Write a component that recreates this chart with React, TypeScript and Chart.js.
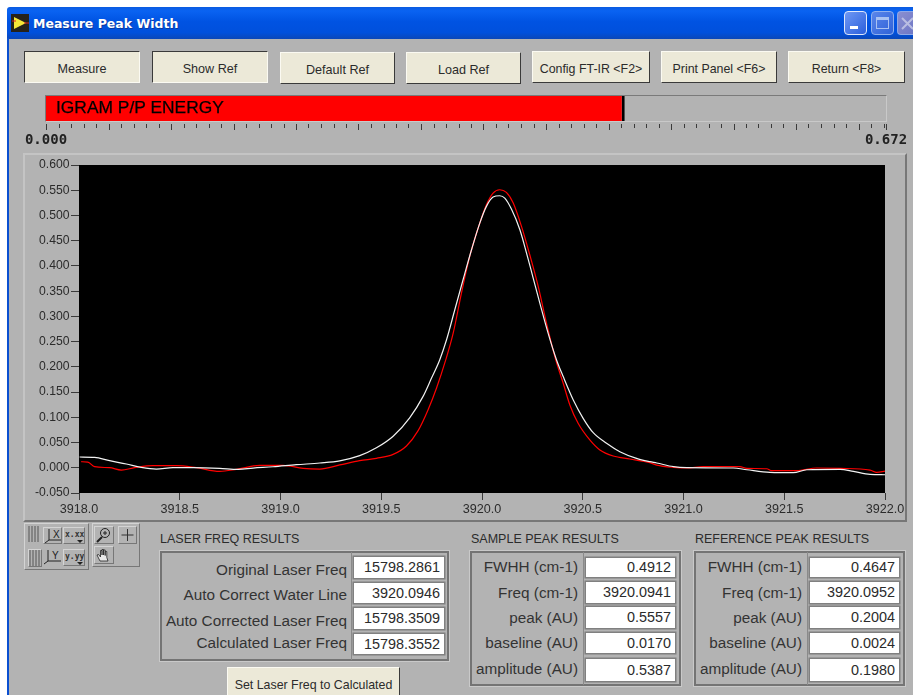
import React, { useEffect, useRef } from "react";
import { Chart, registerables } from "chart.js";

Chart.register(...registerables);

// ---- data ----
const whiteFreq = [
  3918.003, 3918.077, 3918.152, 3918.235, 3918.309, 3918.384, 3918.466, 3918.566, 3918.698, 3918.789, 3918.864,
  3918.963, 3919.079, 3919.195, 3919.294, 3919.393, 3919.476, 3919.559, 3919.641, 3919.707, 3919.749, 3919.79,
  3919.824, 3919.865, 3919.906, 3919.948, 3919.989, 3920.022, 3920.055, 3920.088, 3920.113, 3920.146, 3920.188,
  3920.221, 3920.254, 3920.287, 3920.328, 3920.37, 3920.403, 3920.453, 3920.502, 3920.552, 3920.618, 3920.684,
  3920.767, 3920.833, 3920.867, 3920.95, 3921.016, 3921.247, 3921.314, 3921.429, 3921.545, 3921.612, 3921.777,
  3921.843, 3921.926, 3922.0,
];
const whiteValues = [
  0.0213, 0.0206, 0.014, 0.0074, 0.0008, -0.0025, 0.0001, 0.0001, -0.0012, -0.0032, -0.0006, 0.002, 0.0061, 0.0094,
  0.0137, 0.024, 0.0395, 0.0625, 0.099, 0.141, 0.1773, 0.2137, 0.2536, 0.3131, 0.3726, 0.4321, 0.4849, 0.518, 0.5365,
  0.5391, 0.5345, 0.5127, 0.4717, 0.4254, 0.3759, 0.3263, 0.2668, 0.2137, 0.1807, 0.1344, 0.098, 0.0695, 0.0485,
  0.0319, 0.0187, 0.0121, 0.0095, 0.0021, 0.0001, -0.0005, -0.0039, -0.0091, -0.0098, -0.0039, -0.0032, -0.0072,
  -0.0131, -0.0138,
];
const redFreq = [
  3918.011, 3918.044, 3918.077, 3918.152, 3918.21, 3918.276, 3918.367, 3918.483, 3918.582, 3918.698, 3918.781,
  3918.897, 3919.012, 3919.112, 3919.195, 3919.294, 3919.393, 3919.476, 3919.559, 3919.625, 3919.683, 3919.732,
  3919.774, 3919.82, 3919.857, 3919.898, 3919.939, 3919.981, 3920.022, 3920.055, 3920.088, 3920.121, 3920.155,
  3920.196, 3920.237, 3920.279, 3920.32, 3920.366, 3920.403, 3920.436, 3920.477, 3920.535, 3920.585, 3920.651,
  3920.734, 3920.833, 3920.867, 3920.95, 3921.016, 3921.098, 3921.28, 3921.314, 3921.413, 3921.438, 3921.562,
  3921.661, 3921.777, 3921.926, 3921.959, 3922.0,
];
const redValues = [
  0.012, 0.0113, 0.0021, 0.0001, -0.0045, 0.0001, 0.0041, 0.0041, 0.0001, -0.0072, -0.0032, 0.0047, 0.0047, -0.0012,
  -0.0025, 0.0056, 0.0141, 0.0187, 0.0266, 0.0432, 0.0736, 0.1146, 0.1575, 0.2137, 0.2668, 0.3461, 0.4188, 0.475,
  0.5213, 0.5444, 0.551, 0.5457, 0.5246, 0.4783, 0.4221, 0.3593, 0.2866, 0.2137, 0.1674, 0.1245, 0.0881, 0.0551,
  0.0352, 0.0233, 0.0174, 0.0101, 0.0054, 0.0008, -0.0005, 0.0021, 0.0021, -0.0012, -0.0019, -0.0058, -0.0058,
  -0.0005, -0.0012, -0.0045, -0.0091, -0.0065,
];
const xAxisTicks = [3918.0, 3918.5, 3919.0, 3919.5, 3920.0, 3920.5, 3921.0, 3921.5, 3922.0];
const gaugeValue = [0.463];
const gaugeLabel = ["IGRAM P/P ENERGY"];
const gaugeEnds = [0, 0.672];

const windowTitle = "Measure Peak Width";
const buttonLabels = ["Measure", "Show Ref", "Default Ref", "Load Ref", "Config FT-IR <F2>", "Print Panel <F6>", "Return <F8>"];
const setButtonLabel = "Set Laser Freq to Calculated";

const laserTitle = "LASER FREQ RESULTS";
const laserLabels = ["Original Laser Freq", "Auto Correct Water Line", "Auto Corrected Laser Freq", "Calculated Laser Freq"];
const laserValues = ["15798.2861", "3920.0946", "15798.3509", "15798.3552"];

const peakLabels = ["FWHH (cm-1)", "Freq (cm-1)", "peak (AU)", "baseline (AU)", "amplitude (AU)"];
const sampleTitle = "SAMPLE PEAK RESULTS";
const sampleValues = ["0.4912", "3920.0941", "0.5557", "0.0170", "0.5387"];
const referenceTitle = "REFERENCE PEAK RESULTS";
const referenceValues = ["0.4647", "3920.0952", "0.2004", "0.0024", "0.1980"];

// ---- layout and styles ----
const FONT = '"Liberation Sans", Arial, sans-serif';
const PANEL = "#b3b3b3";
const INK = "#2b2b2b";
const buttonBoxes = [
  { l: 24, t: 51, w: 116, h: 32, down: true },
  { l: 152, t: 51, w: 116, h: 32, down: true },
  { l: 280, t: 52, w: 115, h: 32, down: false },
  { l: 406, t: 52, w: 115, h: 32, down: false },
  { l: 532, t: 51, w: 118, h: 32, down: false },
  { l: 661, t: 51, w: 116, h: 32, down: false },
  { l: 788, t: 51, w: 117, h: 32, down: false },
];
const laserRows = [
  [557, 21],
  [583, 20],
  [608, 21],
  [634, 20],
];
const laserLabelShift = [2, 2, 2, -1];
const peakRows = [
  [558, 19],
  [582, 21],
  [607, 21],
  [633, 20],
  [659, 22],
];
const peakLabelShift = [-1, 0, 0, 0, -1];

const abs = (l: number, t: number, w: number, h: number): React.CSSProperties => ({
  position: "absolute",
  left: l,
  top: t,
  width: w,
  height: h,
  boxSizing: "border-box",
});

function Btn({ box, label, size, shift = 2 }: any) {
  const light = "#fbfaf2";
  const dark = "#3a3a3a";
  return (
    <div
      style={{
        ...abs(box.l, box.t, box.w, box.h),
        background: "#ece9d8",
        borderStyle: "solid",
        borderWidth: 1.5,
        borderColor: box.down ? `${dark} ${light} ${light} ${dark}` : `${light} ${dark} ${dark} ${light}`,
        color: INK,
        fontFamily: FONT,
        fontSize: size,
        textAlign: "center",
        lineHeight: `${box.h - 1 + shift * 2}px`,
        whiteSpace: "nowrap",
        overflow: "hidden",
      }}
    >
      {label}
    </div>
  );
}

function Results({ title, titleX, l, t, w, h, rows, labels, values, labelW, fieldL, fieldW, labelShift }: any) {
  return (
    <>
      <div style={{ position: "absolute", left: titleX, top: 532, fontFamily: FONT, fontSize: 12.5, color: INK, whiteSpace: "nowrap" }}>
        {title}
      </div>
      <div
        style={{
          ...abs(l, t, w, h),
          border: "1px solid #c9c9c9",
          boxShadow: "inset 0 0 0 2px #747474",
          background: PANEL,
        }}
      />
      <div style={{ ...abs(fieldL - 3, t + 2, 1, h - 4), background: "#8a8a8a" }} />
      {rows.map(([rt, rh]: number[], i: number) => (
        <React.Fragment key={i}>
          <div
            style={{
              position: "absolute",
              right: 913 - (l + 3 + labelW),
              top: rt + labelShift[i],
              height: rh,
              lineHeight: `${rh}px`,
              textAlign: "right",
              fontFamily: FONT,
              fontSize: 15.3,
              color: "#333",
              whiteSpace: "nowrap",
            }}
          >
            {labels[i]}
          </div>
          <div
            style={{
              ...abs(fieldL, rt, fieldW, rh),
              background: "#fff",
              boxShadow: "0 0 0 1.5px #808080",
              textAlign: "right",
              paddingRight: 4,
              lineHeight: `${rh}px`,
              fontFamily: FONT,
              fontSize: 14.4,
              color: INK,
            }}
          >
            {values[i]}
          </div>
        </React.Fragment>
      ))}
    </>
  );
}

const raised: React.CSSProperties = {
  background: PANEL,
  borderStyle: "solid",
  borderWidth: 1,
  borderColor: "#d4d4d4 #777 #777 #d4d4d4",
};

function Palette() {
  const tool = (l: number, t: number, w: number, h: number, content: any, flat = false) => (
    <div style={{ ...abs(l, t, w, h), ...(flat ? { background: PANEL } : raised), overflow: "hidden" }}>{content}</div>
  );
  const bars = (
    <svg width="14" height="16">
      {[1, 4, 7, 10].map((x) => (
        <line key={x} x1={x} x2={x} y1="0" y2="16" stroke="#555" strokeWidth="1" />
      ))}
    </svg>
  );
  const axis = (letter: string) => (
    <svg width="20" height="16" style={{ fontFamily: FONT }}>
      <path d="M5 1V12H18M5 12L1 15" stroke="#222" fill="none" strokeWidth="1" />
      <text x="9" y="10" fontSize="10" fill="#222">{letter}</text>
    </svg>
  );
  const fmt = (text: string) => (
    <svg width="22" height="16" style={{ fontFamily: '"DejaVu Sans Mono"' }}>
      <text x="1" y="9" fontSize="8" fontWeight="bold" fill="#333">{text}</text>
      <path d="M13 12H19L16 15Z" fill="#222" />
    </svg>
  );
  return (
    <>
      <div style={{ ...abs(24, 523, 65, 47), ...raised }} />
      <div style={{ ...abs(92, 523, 48, 44), ...raised }} />
      {tool(28, 526, 14, 18, bars, true)}
      {tool(43, 527, 19, 17, axis("X"))}
      {tool(63, 527, 22, 17, fmt("x.xx"))}
      {tool(28, 549, 14, 18, bars)}
      {tool(43, 549, 19, 17, axis("Y"), true)}
      {tool(63, 549, 22, 17, fmt("y.yy"))}
      {tool(
        94,
        526,
        20,
        18,
        <svg width="18" height="16">
          <circle cx="10" cy="6" r="4.5" fill="none" stroke="#222" />
          <path d="M7 10L2 15" stroke="#222" strokeWidth="2" />
          <path d="M8 6H12M10 4V8" stroke="#222" />
        </svg>
      )}
      {tool(
        118,
        526,
        19,
        18,
        <svg width="17" height="16">
          <path d="M8.5 2V14M2.5 8H14.5" stroke="#333" strokeWidth="1" />
        </svg>
      )}
      {tool(
        94,
        546,
        20,
        18,
        <svg width="18" height="16">
          <path
            d="M5 14L2 8L3.5 7.5L5.5 10V3.5H7V8V2.5H8.6V8V3H10.2V8.5V4.5H11.8V10.5L13 14Z"
            fill="#e8e8e8"
            stroke="#222"
            strokeWidth="0.8"
          />
        </svg>
      )}
    </>
  );
}

function TitleBar() {
  return (
    <>
      <div
        style={{
          ...abs(7, 7, 906, 32),
          background: "linear-gradient(180deg,#0a5be0 0%,#0a63f2 12%,#0053e2 45%,#0050dc 80%,#0a47b8 100%)",
          borderRadius: "3px 0 0 0",
        }}
      />
      <div style={{ ...abs(7, 38, 2, 657), background: "#0a4fd0" }} />
      <svg style={{ position: "absolute", left: 11, top: 14 }} width="18" height="18">
        <rect width="18" height="18" fill="#26221a" />
        <path d="M3 3L15 9L3 15Z" fill="#f5e637" />
        <path d="M1 7H5M13 9H18" stroke="#d22" strokeWidth="1" />
      </svg>
      <div
        style={{
          position: "absolute",
          left: 33,
          top: 15,
          fontFamily: '"DejaVu Sans", sans-serif',
          fontWeight: "bold",
          fontSize: 12.5,
          lineHeight: "18px",
          color: "#fff",
          textShadow: "1px 1px 0 #0a3aa0",
          whiteSpace: "nowrap",
        }}
      >
        {windowTitle}
      </div>
      <div style={{ ...abs(844, 11, 23, 24), background: "linear-gradient(135deg,#6f98f4,#2a5fdc)", border: "1px solid #dfe8fb", borderRadius: 4 }}>
        <div style={{ ...abs(5, 14, 8, 3), background: "#fff" }} />
      </div>
      <div style={{ ...abs(871, 11, 23, 24), background: "linear-gradient(135deg,#5a86ea,#2f62d8)", border: "1px solid #8fb0ee", borderRadius: 4 }}>
        <div style={{ ...abs(4, 5, 13, 12), border: "1px solid #a9c2f2", borderTopWidth: 3 }} />
      </div>
      <div style={{ ...abs(897, 11, 16, 24), background: "linear-gradient(135deg,#8a8fd0,#6f78c6)", borderRadius: "4px 0 0 4px", border: "1px solid #8fa8e6", borderRight: "none" }}>
        <svg width="15" height="22">
          <path d="M4 6L15 17M15 6L4 17" stroke="#b9bde2" strokeWidth="2" />
        </svg>
      </div>
    </>
  );
}

const backdropPlugin = {
  id: "plotBackdrop",
  beforeDatasetsDraw(chart: any) {
    const { ctx, chartArea: a } = chart;
    ctx.save();
    ctx.fillStyle = "#000";
    ctx.fillRect(a.left, a.top, a.right - a.left, a.bottom - a.top);
    ctx.restore();
  },
};

const gaugeTicksPlugin = {
  id: "gaugeTicks",
  afterDraw(chart: any) {
    const { ctx, chartArea: a } = chart;
    const scale = chart.scales.x;
    ctx.save();
    ctx.strokeStyle = "#3a3a3a";
    ctx.lineWidth = 1;
    scale.ticks.forEach((t: any) => {
      const major = Math.round(t.value * 1000) % 50 === 0 || t.value === gaugeEnds[1];
      const px = Math.round(scale.getPixelForValue(t.value)) + 0.5;
      ctx.beginPath();
      ctx.moveTo(px, a.bottom + 3);
      ctx.lineTo(px, a.bottom + (major ? 9 : 7));
      ctx.stroke();
    });
    ctx.restore();
  },
};

export default function App() {
  const plotRef = useRef<HTMLCanvasElement>(null);
  const gaugeRef = useRef<HTMLCanvasElement>(null);

  useEffect(() => {
    const plot = new Chart(plotRef.current!, {
      type: "line",
      plugins: [backdropPlugin],
      data: {
        datasets: [
          {
            label: "sample",
            data: whiteFreq.map((x, i) => ({ x, y: whiteValues[i] })),
            borderColor: "#f2f2f2",
            borderWidth: 1.2,
            pointRadius: 0,
            cubicInterpolationMode: "monotone",
          },
          {
            label: "reference",
            data: redFreq.map((x, i) => ({ x, y: redValues[i] })),
            borderColor: "#ff0000",
            borderWidth: 1.2,
            pointRadius: 0,
            cubicInterpolationMode: "monotone",
          },
        ],
      },
      options: {
        animation: false,
        responsive: false,
        devicePixelRatio: 1,
        layout: { padding: { left: 0, right: 24, top: 10, bottom: 0 } },
        plugins: { legend: { display: false }, tooltip: { enabled: false } },
        scales: {
          x: {
            type: "linear",
            min: xAxisTicks[0],
            max: xAxisTicks[xAxisTicks.length - 1],
            border: { display: false },
            grid: { drawOnChartArea: false, tickLength: 7, tickColor: "#3a3a3a" },
            afterBuildTicks: (s: any) => {
              s.ticks = xAxisTicks.map((value) => ({ value }));
            },
            afterFit: (s: any) => {
              s.height = 28;
            },
            ticks: {
              autoSkip: false,
              maxRotation: 0,
              padding: 2,
              color: INK,
              font: { family: FONT, size: 12.6 },
              callback: (v: any) => Number(v).toFixed(1),
            },
          },
          y: {
            min: -0.05,
            max: 0.6,
            border: { display: false },
            grid: { drawOnChartArea: false, tickLength: 8, tickColor: "#3a3a3a" },
            afterFit: (s: any) => {
              s.width = 55;
            },
            ticks: {
              stepSize: 0.05,
              padding: 1.5,
              color: INK,
              font: { family: FONT, size: 12.2 },
              callback: (v: any) => Number(v).toFixed(3),
            },
          },
        },
      },
    } as any);

    const gauge = new Chart(gaugeRef.current!, {
      type: "bar",
      plugins: [gaugeTicksPlugin],
      data: {
        labels: gaugeLabel,
        datasets: [
          {
            data: gaugeValue,
            backgroundColor: "#ff0000",
            borderColor: "#000000",
            borderWidth: { top: 0, left: 0, bottom: 0, right: 3 },
            borderSkipped: false,
            inflateAmount: 0,
            barPercentage: 1,
            categoryPercentage: 1,
          },
        ],
      },
      options: {
        indexAxis: "y",
        animation: false,
        responsive: false,
        devicePixelRatio: 1,
        layout: { padding: { left: 36, right: 33, top: 6, bottom: 0 } },
        plugins: { legend: { display: false }, tooltip: { enabled: false } },
        scales: {
          y: { display: false },
          x: {
            type: "linear",
            min: gaugeEnds[0],
            max: gaugeEnds[1],
            border: { display: false },
            grid: { display: false, drawTicks: false },
            afterBuildTicks: (s: any) => {
              const out: any[] = [];
              for (let k = 0; k <= 67; k++) out.push({ value: k / 100 });
              out.push({ value: gaugeEnds[1] });
              s.ticks = out;
            },
            afterFit: (s: any) => {
              s.height = 29;
            },
            ticks: {
              autoSkip: false,
              maxRotation: 0,
              padding: 11,
              color: "#222",
              font: { family: '"DejaVu Sans Mono", monospace', size: 14, weight: "bold" },
              callback: (v: any) => (v === gaugeEnds[0] || v === gaugeEnds[1] ? Number(v).toFixed(3) : ""),
            },
          },
        },
      },
    } as any);

    return () => {
      plot.destroy();
      gauge.destroy();
    };
  }, []);

  return (
    <div style={{ position: "absolute", left: 0, top: 0, width: 913, height: 695, overflow: "hidden", background: "#fff" }}>
      <div style={{ ...abs(7, 38, 906, 657), background: PANEL }} />
      <TitleBar />

      {buttonLabels.map((label, i) => (
        <Btn key={label} box={buttonBoxes[i]} label={label} size={i < 4 ? 12.6 : 12.4} />
      ))}

      <div style={{ ...abs(45, 95, 842, 27), background: PANEL, borderStyle: "solid", borderWidth: 1, borderColor: "#7a7a7a #c9c9c9 #c9c9c9 #7a7a7a" }} />
      <canvas ref={gaugeRef} width={909} height={60} style={{ position: "absolute", left: 10, top: 90, width: 909, height: 60 }} />
      <div style={{ position: "absolute", left: 56, top: 97, fontFamily: FONT, fontSize: 17.4, lineHeight: "20px", color: "#000", WebkitTextStroke: "0.25px #000", whiteSpace: "nowrap" }}>
        {gaugeLabel[0]}
      </div>

      <div style={{ ...abs(23, 153, 884, 369), borderStyle: "solid", borderWidth: 2, borderColor: "#c4c4c4 #777 #777 #c4c4c4" }} />
      <canvas ref={plotRef} width={885} height={366} style={{ position: "absolute", left: 24, top: 155, width: 885, height: 366 }} />

      <Palette />

      <Results
        title={laserTitle}
        titleX={160}
        l={159}
        t={550}
        w={291}
        h={112}
        rows={laserRows}
        labels={laserLabels}
        values={laserValues}
        labelW={185}
        fieldL={354}
        fieldW={90}
        labelShift={laserLabelShift}
      />
      <Results
        title={sampleTitle}
        titleX={471}
        l={469}
        t={550}
        w={213}
        h={137}
        rows={peakRows}
        labels={peakLabels}
        values={sampleValues}
        labelW={106}
        fieldL={586}
        fieldW={89}
        labelShift={peakLabelShift}
      />
      <Results
        title={referenceTitle}
        titleX={695}
        l={693}
        t={550}
        w={213}
        h={137}
        rows={peakRows}
        labels={peakLabels}
        values={referenceValues}
        labelW={106}
        fieldL={810}
        fieldW={89}
        labelShift={peakLabelShift}
      />

      <Btn box={{ l: 227, t: 667, w: 173, h: 36, down: false }} label={setButtonLabel} size={12.4} shift={0} />
    </div>
  );
}
